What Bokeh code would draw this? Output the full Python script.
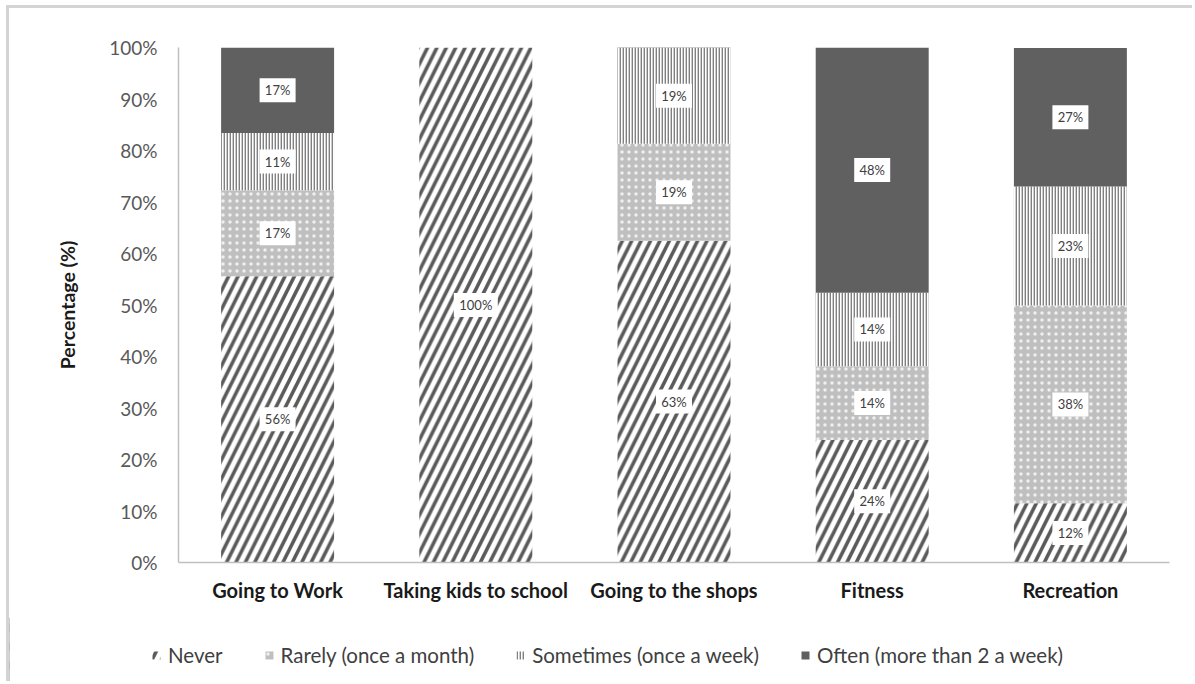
from bokeh.plotting import figure
from bokeh.layouts import column
from bokeh.models import (FactorRange, Range1d, Legend, LegendItem, ColumnDataSource,
                          FixedTicker, CustomJSTickFormatter)
from bokeh.core.properties import value
from bokeh.embed import file_html
from bokeh.resources import INLINE

# Trip purposes and share of respondents (%) for each frequency
purposes = ["Going to Work", "Taking kids to school", "Going to the shops", "Fitness", "Recreation"]
never = [55.6, 100.0, 62.5, 23.8, 11.5]
rarely = [16.7, 0.0, 18.8, 14.3, 38.4]
sometimes = [11.1, 0.0, 18.8, 14.3, 23.1]
often = [16.7, 0.0, 0.0, 47.6, 26.9]

series_keys = ["never", "rarely", "sometimes", "often"]
series_names = ["Never", "Rarely (once a month)", "Sometimes (once a week)", "Often (more than 2 a week)"]
y_ticks = [0, 10, 20, 30, 40, 50, 60, 70, 80, 90, 100]

FONT = "Lato"
FRAME = "3px solid #d4d4d4"
data = dict(purpose=purposes, never=never, rarely=rarely, sometimes=sometimes, often=often)

styles = [
    dict(fill_color="white", hatch_pattern="/", hatch_color="#5a5a5a", hatch_scale=18.8, hatch_weight=3.6),
    dict(fill_color="#bfbfbf", hatch_pattern=".", hatch_color="white", hatch_alpha=0.75,
         hatch_scale=7, hatch_weight=1),
    dict(fill_color="white", hatch_pattern="|", hatch_color="#808080", hatch_scale=3, hatch_weight=1.8),
    dict(fill_color="#606060"),
]

p = figure(x_range=FactorRange(*purposes, range_padding=0), y_range=Range1d(0, 100),
           width=1186, height=612, output_backend="svg", toolbar_location=None,
           min_border_left=169, min_border_right=26, min_border_top=39, min_border_bottom=58)
p.margin = (5, 0, 0, 6)
p.styles = {"border-top": FRAME, "border-left": FRAME}
p.outline_line_color = None
p.xgrid.grid_line_color = None
p.ygrid.grid_line_color = None

bottom = [0.0] * len(purposes)
label_x, label_y, label_t = [], [], []
for key, st in zip(series_keys, styles):
    vals = data[key]
    top = [b + v for b, v in zip(bottom, vals)]
    seg = ColumnDataSource(dict(purpose=purposes, bottom=bottom, top=top))
    p.vbar(x="purpose", bottom="bottom", top="top", width=0.57, source=seg, line_color=None, **st)
    for cat, b, t, v in zip(purposes, bottom, top, vals):
        if v > 0:
            lo, hi = min(b, 100), min(t, 100)
            label_x.append(cat)
            label_y.append((lo + hi) / 2)
            label_t.append("%d%%" % int(v + 0.5))
    bottom = top

lab = ColumnDataSource(dict(x=label_x, y=label_y, t=label_t,
                            w=[12 + 8 * len(s) for s in label_t]))
p.rect(x="x", y="y", width="w", height=24, width_units="screen", height_units="screen",
       source=lab, fill_color="white", line_color=None)
p.text(x="x", y="y", text="t", source=lab, text_align="center", text_baseline="middle",
       text_font=value(FONT), text_font_size="13px", text_color="#404040")

# axes
p.yaxis.ticker = FixedTicker(ticks=y_ticks)
p.yaxis.formatter = CustomJSTickFormatter(code="return tick + '%';")
for ax in (p.xaxis, p.yaxis):
    ax.major_tick_line_color = None
    ax.minor_tick_line_color = None
    ax.axis_line_color = "#bfbfbf"
    ax.axis_line_width = 1.5
p.yaxis.major_label_text_font = FONT
p.yaxis.major_label_text_font_size = "19px"
p.yaxis.major_label_text_color = "#595959"
p.yaxis.major_label_standoff = 15
p.yaxis.axis_label = "Percentage (%)"
p.yaxis.axis_label_text_font = FONT
p.yaxis.axis_label_text_font_size = "19.5px"
p.yaxis.axis_label_text_font_style = "bold"
p.yaxis.axis_label_text_color = "#1a1a1a"
p.yaxis.axis_label_standoff = 27
p.xaxis.major_label_text_font = FONT
p.xaxis.major_label_text_font_size = "20px"
p.xaxis.major_label_text_font_style = "bold"
p.xaxis.major_label_text_color = "#1a1a1a"
p.xaxis.major_label_standoff = 9

# legend strip underneath the chart
leg = figure(width=1186, height=64, x_range=Range1d(0, 1), y_range=Range1d(0, 1),
             output_backend="svg", toolbar_location=None, x_axis_type=None, y_axis_type=None,
             min_border=0)
leg.margin = (0, 0, 0, 6)
leg.styles = {"border-left": FRAME}
leg.outline_line_color = None
leg.xgrid.grid_line_color = None
leg.ygrid.grid_line_color = None
legend_x = 142
if "frame_align" in leg.properties():
    p.frame_align = False
    leg.frame_align = False
else:
    leg.min_border_left = 169
    leg.min_border_right = 26
    legend_x = -27
swatches = []
for st in styles:
    swatches.append(leg.vbar(x=[-5], bottom=[0], top=[1], width=0.5, line_color=None, **st))
legend = Legend(items=[LegendItem(label=n, renderers=[r]) for n, r in zip(series_names, swatches)],
                orientation="horizontal", location=(legend_x, 14), padding=0, margin=0, spacing=41,
                glyph_width=10, glyph_height=10, label_standoff=7,
                label_text_font=FONT, label_text_font_size="20.5px", label_text_color="#404040",
                border_line_color=None, background_fill_alpha=0)
leg.add_layout(legend, "center")

open("out.html", "w").write(file_html(column(p, leg, spacing=0), INLINE))
